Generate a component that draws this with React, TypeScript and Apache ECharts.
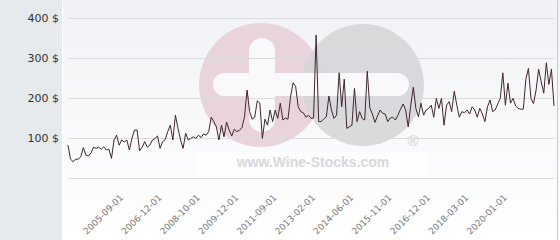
import React, { useEffect, useRef } from "react";
import * as echarts from "echarts";

// Series values (price in $), one per auction date
const prices: number[] = [
  82, 47, 41, 47, 47, 53, 76, 57, 55, 63, 77, 74, 77, 72, 78, 70, 72, 49, 95, 107,
  82, 95, 90, 95, 70, 99, 120, 120, 68, 77, 91,
  77, 82, 95, 99, 105, 74, 91, 96, 116, 132, 95, 157, 124, 95, 74, 112, 95, 99, 103,
  99, 107, 101, 110, 107, 116, 152, 141, 128, 95, 132, 103, 140,
  120, 105, 122, 116, 119, 126, 153, 220, 166, 147, 152, 193, 187, 99, 147, 132, 170,
  141, 170, 149, 187, 145, 150, 147, 203, 238, 229, 178, 166, 163, 152, 157, 149, 150, 357,
  141, 141, 148, 153, 205, 170, 149, 157, 263, 178, 247, 124, 128, 132, 224, 141, 166,
  149, 145, 267, 175, 160, 139, 155, 170, 162, 160, 141,
  150, 152, 145, 157, 172, 185, 170, 128, 182, 227, 174, 153, 187, 157, 170, 174, 182,
  152, 199, 174, 199, 132, 182, 191, 166, 217, 182, 152, 166, 163,
  170, 160, 178, 170, 152, 174, 160, 141, 178, 195, 166, 170, 185, 199, 263, 182, 237,
  187, 199, 180, 174, 172, 172, 247, 274, 199, 186, 220, 272, 240, 212, 288, 234, 272, 180,
];

// Dated tick labels shown on the x axis
const tickLabels: string[] = [
  "2005-09-01", "2006-12-01", "2008-10-01", "2009-12-01", "2011-09-01", "2013-02-01",
  "2014-06-01", "2015-11-01", "2016-12-01", "2018-03-01", "2020-01-01",
];
const firstTickIndex = 21;
const tickStep = 15;

// y axis ticks
const yTicks: number[] = [0, 100, 200, 300, 400];

export default function App() {
  const ref = useRef<HTMLDivElement>(null);

  useEffect(() => {
    if (!ref.current) return;
    const chart = echarts.init(ref.current, null, { renderer: "svg" });

    const tickMap: Record<number, string> = {};
    tickLabels.forEach((t, k) => {
      tickMap[firstTickIndex + k * tickStep] = t;
    });
    const categories = prices.map((_, i) => (tickMap[i] !== undefined ? tickMap[i] : "p" + i));

    const W = 560;
    const H = 240;

    chart.setOption({
      animation: false,
      grid: {
        left: 68,
        right: 6,
        top: 18,
        bottom: 62,
        containLabel: false,
        outerBoundsMode: "none",
      },
      xAxis: {
        type: "category",
        data: categories,
        boundaryGap: false,
        axisLine: { show: false },
        axisTick: { show: false },
        splitLine: { show: false },
        axisLabel: {
          rotate: 45,
          interval: (i: number) => tickMap[i] !== undefined,
          formatter: (v: string) => (v.charAt(0) === "p" ? "" : v),
          fontSize: 9,
          fontFamily: "DejaVu Sans",
          color: "#7a7a7a",
          margin: 18,
        },
      },
      yAxis: {
        type: "value",
        min: yTicks[0],
        max: yTicks[yTicks.length - 1],
        interval: 100,
        axisLine: { show: false },
        axisTick: { show: false },
        splitLine: { show: true, lineStyle: { color: "#dcdce0", width: 1 } },
        axisLabel: {
          formatter: (v: number) => (v === 0 ? "" : v + " $"),
          fontSize: 11,
          fontFamily: "DejaVu Sans",
          color: "#333333",
          margin: 9,
        },
      },
      graphic: [
        {
          type: "rect",
          z: -20,
          silent: true,
          shape: { x: 63, y: 0, width: W - 63, height: H },
          style: {
            fill: new echarts.graphic.LinearGradient(0, 0, 0, 1, [
              { offset: 0, color: "#f1f2f6" },
              { offset: 1, color: "#ffffff" },
            ]),
          },
        },
        {
          type: "rect",
          z: -20,
          silent: true,
          shape: { x: 0, y: 0, width: 62, height: H },
          style: { fill: "#e6eaed" },
        },
        {
          type: "rect",
          z: -20,
          silent: true,
          shape: { x: 62, y: 0, width: 1, height: H },
          style: { fill: "#ffffff" },
        },
        {
          type: "line",
          z: -20,
          silent: true,
          shape: { x1: 557.5, y1: 0, x2: 557.5, y2: H },
          style: { stroke: "#c9c9cc", lineWidth: 1 },
        },
        // watermark
        {
          type: "rect",
          z: -15,
          silent: true,
          shape: { x: 197, y: 152, width: 230, height: 22 },
          style: { fill: "#ffffff", opacity: 0.55 },
        },
        {
          type: "circle",
          z: -15,
          silent: true,
          shape: { cx: 261, cy: 85, r: 62 },
          style: { fill: "#ead4db" },
        },
        {
          type: "circle",
          z: -14,
          silent: true,
          shape: { cx: 363, cy: 85, r: 61 },
          style: { fill: "#d5d5d8", opacity: 0.88 },
        },
        {
          type: "rect",
          z: -13,
          silent: true,
          shape: { x: 213, y: 73, width: 196, height: 23, r: 11.5 },
          style: { fill: "#f9f9fb" },
        },
        {
          type: "rect",
          z: -13,
          silent: true,
          shape: { x: 249, y: 38, width: 26, height: 94, r: 13 },
          style: { fill: "#f9f9fb" },
        },
        {
          type: "text",
          z: -12,
          silent: true,
          x: 313,
          y: 162,
          style: {
            text: "www.Wine-Stocks.com",
            font: "bold 14px 'Liberation Sans', Arial, sans-serif",
            fill: "#d8d8da",
            align: "center",
            verticalAlign: "middle",
          },
        },
        {
          type: "text",
          z: -12,
          silent: true,
          x: 413,
          y: 140,
          style: {
            text: "®",
            font: "15px 'Liberation Sans', Arial, sans-serif",
            fill: "#d0d0d3",
            align: "center",
            verticalAlign: "middle",
          },
        },
      ],
      series: [
        {
          type: "line",
          data: prices,
          showSymbol: false,
          symbol: "none",
          lineStyle: { color: "#3f2631", width: 1 },
          z: 2,
        },
      ],
    });

    return () => chart.dispose();
  }, []);

  return (
    <div
      ref={ref}
      style={{ position: "absolute", left: 0, top: 0, width: 560, height: 240 }}
    />
  );
}
